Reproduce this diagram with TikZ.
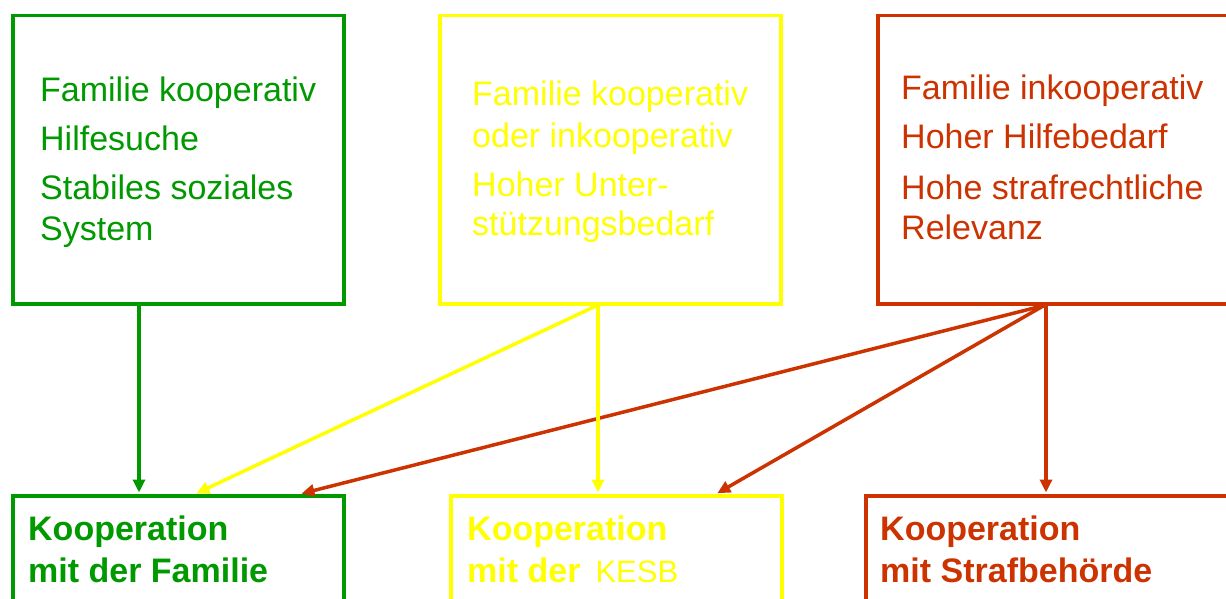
\documentclass[tikz,border=0pt]{standalone}
\usepackage{fontspec}
\setmainfont{Liberation Sans}
\usetikzlibrary{arrows.meta,calc}
\definecolor{cgreen}{RGB}{0,153,0}
\definecolor{cyellow}{RGB}{255,255,0}
\definecolor{cred}{RGB}{204,51,0}
\begin{document}
\begin{tikzpicture}[x=1pt,y=-1pt,
  box/.style={draw, line width=3.5pt, inner sep=0pt, anchor=north west},
  txt/.style={anchor=base west, inner sep=0pt, font=\fontsize{34}{40}\selectfont},
  btxt/.style={anchor=base west, inner sep=0pt, font=\fontsize{34}{40}\selectfont\bfseries},
  arr/.style={line width=3.5pt, -{Triangle[length=13pt,width=12pt]}, shorten >=1.5pt}]
\useasboundingbox (0,0) rectangle (1226,599);
\clip (0,0) rectangle (1226,599);
\fill[white] (0,0) rectangle (1226,599);
% boxes
\node[box, draw=cgreen, minimum width=331pt, minimum height=288pt] (g1) at (11,14) {};
\node[box, draw=cyellow, minimum width=341pt, minimum height=288pt] (y1) at (438,14) {};
\node[box, draw=cred, minimum width=400pt, minimum height=288pt] (r1) at (876,14) {};
\node[box, draw=cgreen, minimum width=331pt, minimum height=140pt] (g2) at (11,494) {};
\node[box, draw=cyellow, minimum width=331pt, minimum height=140pt] (y2) at (449,494) {};
\node[box, draw=cred, minimum width=400pt, minimum height=140pt] (r2) at (864,494) {};
% top texts
\node[txt, text=cgreen] (g1a) at (40,102) {Familie kooperativ};
\node[txt, text=cgreen] (g1b) at (40,150) {Hilfesuche};
\node[txt, text=cgreen] (g1c) at (40,199) {Stabiles soziales};
\node[txt, text=cgreen] (g1d) at (40,240) {System};
\node[txt, text=cyellow] (y1a) at (472,106) {Familie kooperativ};
\node[txt, text=cyellow] (y1b) at (472,147) {oder inkooperativ};
\node[txt, text=cyellow] (y1c) at (472,196) {Hoher Unter-};
\node[txt, text=cyellow] (y1d) at (472,235) {stützungsbedarf};
\node[txt, text=cred] (r1a) at (901,100) {Familie inkooperativ};
\node[txt, text=cred] (r1b) at (901,149) {Hoher Hilfebedarf};
\node[txt, text=cred] (r1c) at (901,199) {Hohe strafrechtliche};
\node[txt, text=cred] (r1d) at (901,239) {Relevanz};
% bottom texts
\node[btxt, text=cgreen] (g2a) at (28,540) {Kooperation};
\node[btxt, text=cgreen] (g2b) at (28,582) {mit der Familie};
\node[btxt, text=cyellow] (y2a) at (467,540) {Kooperation};
\node[btxt, text=cyellow] (y2b) at (467,582) {mit der\hspace{15pt}{\fontsize{31}{36}\selectfont\mdseries KESB}};
\node[btxt, text=cred] (r2a) at (880,540) {Kooperation};
\node[btxt, text=cred] (r2b) at (880,582) {mit Strafbehörde};
% connectors
\draw[arr, cgreen] ([xshift=128pt]g1.south west) -- ([xshift=128pt]g2.north west);
\draw[arr, cred] ([xshift=168pt]r1.south west) -- ([xshift=289pt]g2.north west);
\draw[arr, cred] ([xshift=168pt]r1.south west) -- ([xshift=267pt]y2.north west);
\draw[arr, cred] ([xshift=170pt]r1.south west) -- ([xshift=182pt]r2.north west);
\draw[arr, cyellow] ([xshift=159pt]y1.south west) -- ([xshift=184pt]g2.north west);
\draw[arr, cyellow] ([xshift=160pt]y1.south west) -- ([xshift=149pt]y2.north west);
\end{tikzpicture}
\end{document}
